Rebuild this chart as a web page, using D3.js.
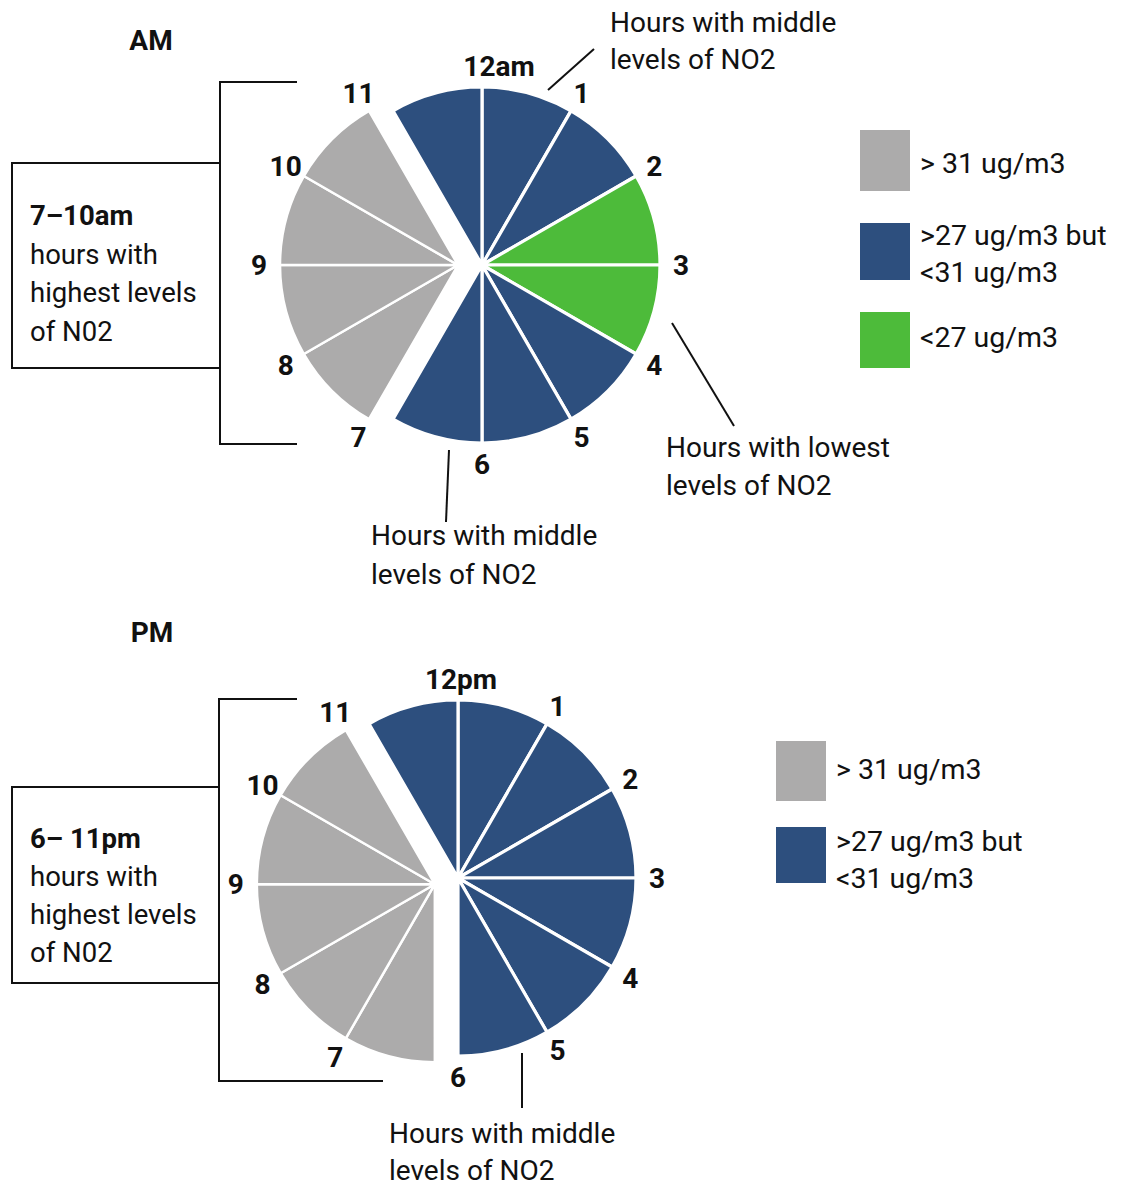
<!DOCTYPE html>
<html>
<head>
<meta charset="utf-8">
<script src="https://cdn.jsdelivr.net/npm/d3@7"></script>
<style>
  html, body { margin: 0; padding: 0; background: #ffffff; }
  svg { display: block; font-family: Roboto, "Noto Sans", sans-serif; }
</style>
</head>
<body>
<svg id="chart" width="1121" height="1187"></svg>
<script>
// ---------------- DATA ----------------
// Each clock: 12 one-hour slices, starting at 12 o'clock, going clockwise.
const hourSlices = [1, 1, 1, 1, 1, 1, 1, 1, 1, 1, 1, 1];
const amLabels = ["12am", "1", "2", "3", "4", "5", "6", "7", "8", "9", "10", "11"];
const pmLabels = ["12pm", "1", "2", "3", "4", "5", "6", "7", "8", "9", "10", "11"];
// NO2 level class for each hour slice (hour h -> h+1)
const amLevels = ["mid", "mid", "low", "low", "mid", "mid", "mid", "high", "high", "high", "high", "mid"];
const pmLevels = ["mid", "mid", "mid", "mid", "mid", "mid", "high", "high", "high", "high", "high", "mid"];

const levelKeys = ["high", "mid", "low"];
const levelColors = ["#acabab", "#2d4f7e", "#4dbb3a"];
const levelLegendText = [["> 31 ug/m3"], [">27 ug/m3 but", "<31 ug/m3"], ["<27 ug/m3"]];

const amTitle = "AM";
const pmTitle = "PM";
const amBoxText = ["7\u201310am", "hours with", "highest levels", "of N02"];
const pmBoxText = ["6\u2013 11pm", "hours with", "highest levels", "of N02"];
const noteMiddle = ["Hours with middle", "levels of NO2"];
const noteLowest = ["Hours with lowest", "levels of NO2"];

// ---------------- DRAW ----------------
const svg = d3.select("#chart");
const color = d3.scaleOrdinal().domain(levelKeys).range(levelColors);
const R = 178;
const explode = 24;
const labelR = 199;

function drawClock(cx, cy, levels, labels, firstNudge) {
  const g = svg.append("g").attr("transform", `translate(${cx},${cy})`);
  const pie = d3.pie().value(d => d).sort(null);
  const arcs = pie(hourSlices).map((a, i) => Object.assign(a, { level: levels[i] }));
  const arc = d3.arc().innerRadius(0).outerRadius(R);

  const high = arcs.filter(a => a.level === "high");
  const mid = d3.mean(high, a => (a.startAngle + a.endAngle) / 2);
  const off = [explode * Math.sin(mid), -explode * Math.cos(mid)];

  g.selectAll("path.slice")
    .data(arcs)
    .join("path")
    .attr("class", "slice")
    .attr("d", arc)
    .attr("transform", d => d.level === "high" ? `translate(${off[0]},${off[1]})` : null)
    .attr("fill", d => color(d.level))
    .attr("stroke", "#ffffff")
    .attr("stroke-width", d => d.level === "high" ? 2.5 : 3.2)
    .attr("stroke-linejoin", "round");

  // hour labels on the boundaries
  const step = 2 * Math.PI / hourSlices.length;
  const lab = labels.map((t, i) => {
    const a = i * step;
    const adj = levels[(i + levels.length - 1) % levels.length] === "high" || levels[i] === "high";
    const shifted = adj && a > Math.PI + 1e-6;
    return {
      t,
      x: labelR * Math.sin(a) + (shifted ? off[0] : 0) + (i === 0 ? firstNudge : 0),
      y: -labelR * Math.cos(a) + (shifted ? off[1] : 0)
    };
  });
  g.selectAll("text.hour")
    .data(lab)
    .join("text")
    .attr("class", "hour")
    .attr("x", d => d.x)
    .attr("y", d => d.y)
    .attr("dy", "0.36em")
    .attr("text-anchor", "middle")
    .attr("font-size", 28)
    .attr("font-weight", 700)
    .attr("fill", "#111")
    .text(d => d.t);
  return g;
}

function multiLine(x, y0, lines, lh, size, boldFirst) {
  const t = svg.append("text").attr("x", x).attr("y", y0)
    .attr("font-size", size).attr("fill", "#111");
  lines.forEach((l, i) => {
    t.append("tspan").attr("x", x).attr("y", y0 + i * lh)
      .attr("font-weight", boldFirst && i === 0 ? 700 : 400)
      .text(l);
  });
}

function line(x1, y1, x2, y2, w) {
  svg.append("line").attr("x1", x1).attr("y1", y1).attr("x2", x2).attr("y2", y2)
    .attr("stroke", "#111").attr("stroke-width", w || 2);
}

function legend(x, ys, keys) {
  keys.forEach((k, i) => {
    const idx = levelKeys.indexOf(k);
    svg.append("rect").attr("x", x).attr("y", ys[i][0]).attr("width", 50).attr("height", ys[i][1] - ys[i][0])
      .attr("fill", color(k));
    multiLine(x + 60, ys[i][2], levelLegendText[idx], 37, 28.5, false);
  });
}

// ---- AM ----
svg.append("text").attr("x", 151).attr("y", 50).attr("text-anchor", "middle")
  .attr("font-size", 28).attr("font-weight", 700).attr("fill", "#111").text(amTitle);
// bracket + box
line(220, 82, 220, 444);
line(219, 82, 297, 82);
line(219, 444, 297, 444);
svg.append("rect").attr("x", 12).attr("y", 163).attr("width", 208).attr("height", 205)
  .attr("fill", "none").attr("stroke", "#111").attr("stroke-width", 2);
multiLine(30, 225, amBoxText, 38.5, 27.5, true);

drawClock(482, 265, amLevels, amLabels, 17);

// annotations
line(548, 90, 594, 49);
multiLine(610, 32, noteMiddle, 37, 28, false);
line(672, 323, 734, 426);
multiLine(666, 457, noteLowest, 38, 28, false);
line(449, 450, 446, 522);
multiLine(371, 545, noteMiddle, 39, 28, false);

legend(860, [[130, 191, 173], [223, 280, 245], [312, 368, 347]], ["high", "mid", "low"]);

// ---- PM ----
svg.append("text").attr("x", 152).attr("y", 642).attr("text-anchor", "middle")
  .attr("font-size", 28).attr("font-weight", 700).attr("fill", "#111").text(pmTitle);
line(219, 699, 219, 1081);
line(218, 699, 297, 699);
line(218, 1081, 383, 1081);
svg.append("rect").attr("x", 12).attr("y", 787).attr("width", 207).attr("height", 196)
  .attr("fill", "none").attr("stroke", "#111").attr("stroke-width", 2);
multiLine(30, 848, pmBoxText, 38, 27.5, true);

drawClock(458, 878, pmLevels, pmLabels, 3);

line(522, 1053, 522, 1108);
multiLine(389, 1143, noteMiddle, 37, 28, false);

legend(776, [[741, 801, 779], [827, 883, 851]], ["high", "mid"]);
</script>
</body>
</html>
